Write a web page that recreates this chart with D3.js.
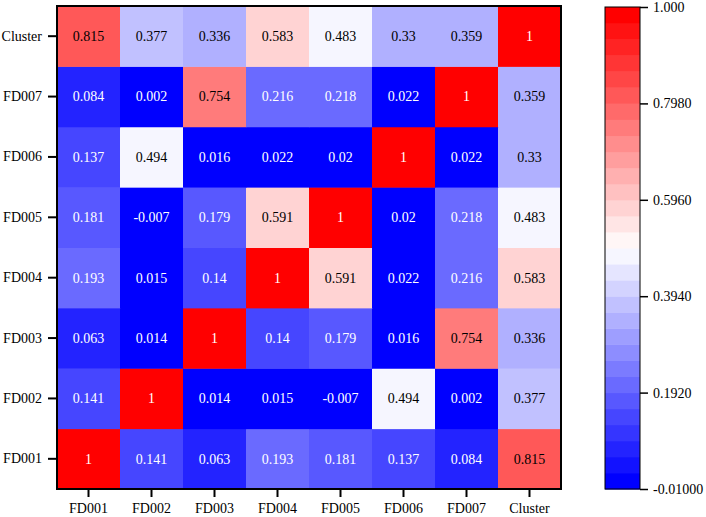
<!DOCTYPE html>
<html>
<head>
<meta charset="utf-8">
<script src="https://cdn.jsdelivr.net/npm/d3@7"></script>
<style>
  body { margin: 0; background: #fff; }
  text { font-family: "Liberation Serif", "Times New Roman", serif; }
</style>
</head>
<body>
<svg id="chart" width="706" height="517"></svg>
<script>
// variables, in column order (bottom-up for rows)
const names = ['FD001', 'FD002', 'FD003', 'FD004', 'FD005', 'FD006', 'FD007', 'Cluster'];

// correlation rows, same order as names
const rFD001   = [1, 0.141, 0.063, 0.193, 0.181, 0.137, 0.084, 0.815];
const rFD002   = [0.141, 1, 0.014, 0.015, -0.007, 0.494, 0.002, 0.377];
const rFD003   = [0.063, 0.014, 1, 0.14, 0.179, 0.016, 0.754, 0.336];
const rFD004   = [0.193, 0.015, 0.14, 1, 0.591, 0.022, 0.216, 0.583];
const rFD005   = [0.181, -0.007, 0.179, 0.591, 1, 0.02, 0.218, 0.483];
const rFD006   = [0.137, 0.494, 0.016, 0.022, 0.02, 1, 0.022, 0.33];
const rFD007   = [0.084, 0.002, 0.754, 0.216, 0.218, 0.022, 1, 0.359];
const rCluster = [0.815, 0.377, 0.336, 0.583, 0.483, 0.33, 0.359, 1];

const colorTicks = [-0.01, 0.192, 0.394, 0.596, 0.798, 1.0];
const colorTickLabels = ['-0.01000', '0.1920', '0.3940', '0.5960', '0.7980', '1.000'];
const nBands = 30;

const rows = [rFD001, rFD002, rFD003, rFD004, rFD005, rFD006, rFD007, rCluster];
const cells = [];
rows.forEach((r, i) => r.forEach((v, j) => cells.push({ row: names[i], col: names[j], v: v })));

const svg = d3.select('#chart');
const margin = { top: 6, left: 57 };
const width = 504, height = 483;

const x = d3.scaleBand().domain(names).range([0, width]);
const y = d3.scaleBand().domain(names).range([height, 0]);

const ramp = d3.scaleLinear().domain([0, 0.5, 1]).range(['#0000ff', '#ffffff', '#ff0000']);
const bandColors = d3.range(nBands).map(i => ramp(i / (nBands - 1)));
const color = d3.scaleQuantize().domain([-0.01, 1]).range(bandColors);

const g = svg.append('g').attr('transform', `translate(${margin.left},${margin.top})`);

g.selectAll('rect.cell')
  .data(cells)
  .enter().append('rect')
  .attr('class', 'cell')
  .attr('x', d => x(d.col))
  .attr('y', d => y(d.row))
  .attr('width', x.bandwidth() + 0.5)
  .attr('height', y.bandwidth() + 0.5)
  .attr('fill', d => color(d.v));

g.selectAll('text.val')
  .data(cells)
  .enter().append('text')
  .attr('class', 'val')
  .attr('x', d => x(d.col) + x.bandwidth() / 2)
  .attr('y', d => y(d.row) + y.bandwidth() / 2)
  .attr('dy', '0.35em')
  .attr('text-anchor', 'middle')
  .attr('font-size', 14)
  .attr('fill', d => (d.v < 0.25 || d.v > 0.9) ? '#fff' : '#000')
  .text(d => d.v);

// frame
g.append('rect')
  .attr('width', width).attr('height', height)
  .attr('fill', 'none').attr('stroke', '#000').attr('stroke-width', 2);

const xAxis = g.append('g')
  .attr('transform', `translate(0,${height})`)
  .call(d3.axisBottom(x).tickSize(8).tickPadding(6));
const yAxis = g.append('g')
  .call(d3.axisLeft(y).tickSize(9).tickPadding(6));
[xAxis, yAxis].forEach(a => {
  a.select('.domain').remove();
  a.selectAll('line').attr('stroke-width', 2);
  a.selectAll('text').attr('font-size', 14).attr('fill', '#000')
    .style('font-family', '"Liberation Serif", "Times New Roman", serif');
});

// colour bar
const cb = { x: 605, y: 7, w: 35, h: 482 };
const cy = d3.scaleLinear().domain([-0.01, 1]).range([cb.y + cb.h, cb.y]);
const step = 1.01 / nBands;
svg.append('g').selectAll('rect')
  .data(bandColors)
  .enter().append('rect')
  .attr('x', cb.x)
  .attr('y', (c, i) => cy(-0.01 + (i + 1) * step))
  .attr('width', cb.w)
  .attr('height', (c, i) => cy(-0.01 + i * step) - cy(-0.01 + (i + 1) * step) + 0.5)
  .attr('fill', c => c);
svg.append('rect')
  .attr('x', cb.x).attr('y', cb.y).attr('width', cb.w).attr('height', cb.h)
  .attr('fill', 'none').attr('stroke', '#000').attr('stroke-width', 1);

const cAxis = svg.append('g')
  .attr('transform', `translate(${cb.x + cb.w},0)`)
  .call(d3.axisRight(cy).tickValues(colorTicks).tickSize(8).tickPadding(5)
    .tickFormat((d, i) => colorTickLabels[i]));
cAxis.select('.domain').remove();
cAxis.selectAll('line').attr('stroke-width', 1.5);
cAxis.selectAll('text').attr('font-size', 14).attr('fill', '#000')
  .style('font-family', '"Liberation Serif", "Times New Roman", serif');
</script>
</body>
</html>
